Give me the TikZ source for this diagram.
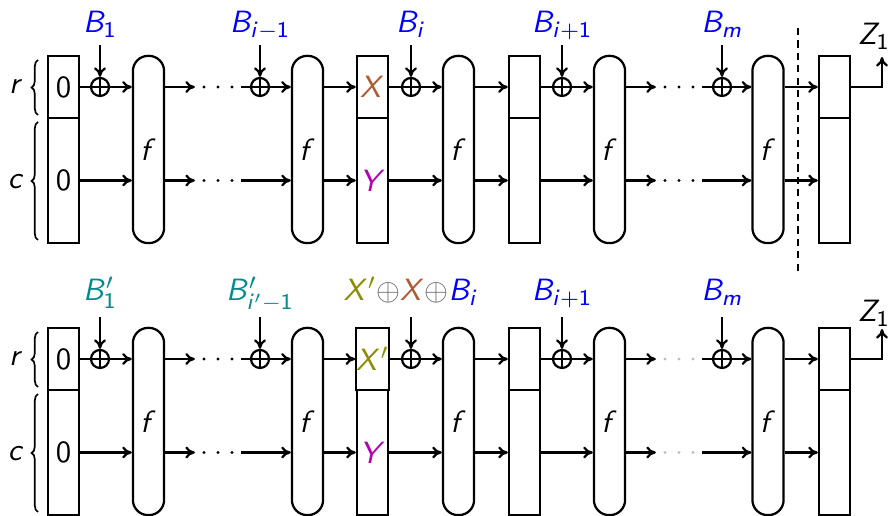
\documentclass[tikz,border=0pt,11pt]{standalone}
\usepackage{tikz}
\usetikzlibrary{positioning,arrows.meta,decorations.pathreplacing,calc}

\DeclareMathAlphabet{\mathsfit}{OT1}{cmss}{m}{sl}
\newcommand{\sv}[1]{\mathsfit{#1}}

\definecolor{msgblue}{RGB}{0,0,255}
\definecolor{msgteal}{RGB}{0,140,140}
\definecolor{xbrown}{RGB}{175,90,50}
\definecolor{ymag}{RGB}{180,0,180}
\definecolor{xolive}{RGB}{140,140,0}
\definecolor{opgray}{RGB}{100,100,100}
\definecolor{dotgray}{RGB}{190,190,190}

\tikzset{
  state/.style={draw,thick,minimum width=0.39cm,inner sep=0pt},
  perm/.style={draw,thick,rounded corners=0.19cm,minimum width=0.39cm,minimum height=2.34cm,inner sep=0pt},
  xor/.style={draw,thick,circle,minimum size=0.225cm,inner sep=0pt,
    path picture={\draw[thick] (path picture bounding box.north) -- (path picture bounding box.south)
      (path picture bounding box.west) -- (path picture bounding box.east);}},
  gap/.style={minimum width=0.55cm,minimum height=0.1cm,inner sep=0pt,
    path picture={\foreach \k in {-1,0,1}
      \fill[#1] ($(path picture bounding box.center)+(\k*0.175cm,0)$) circle (0.02cm);}},
  gap/.default=black,
  msg/.style={inner sep=0pt,text depth=#1,anchor=south},
  sidebrace/.style={decorate,decoration={brace,amplitude=0.08cm},semithick},
}

\begin{document}
\begin{tikzpicture}[x=0.0125cm,y=-0.0125cm,thick,>={To[length=0.12cm,width=0.15cm]}]
\useasboundingbox (0,0) rectangle (889,516);

% both sponge rows
\foreach \r/\dy/\dc/\xt in {a/0/black/{\textcolor{xbrown}{$\sv{X}$}},b/272/dotgray/{\textcolor{xolive}{$\sv{X}'$}}}{
\begin{scope}[shift={(0,\dy)}]
\node (lr\r) at (16,87) {$\sv{r}$};
\node (lc\r) at (16,182) {$\sv{c}$};
\draw[sidebrace] (38,115) -- (38,60);
\draw[sidebrace] (38,240) -- (38,122);

\node[state,minimum height=0.775cm] (s0r\r) at (63.5,87) {$\mathsf{0}$};
\node[state,minimum height=1.5625cm] (s0c\r) at (63.5,180.5) {$\mathsf{0}$};
\node[xor] (xor1\r) at (100,87) {};
\node[perm] (f1\r) at (148.5,149.5) {$\sv{f}$};
\node[gap] (g1r\r) at (218,87) {};
\node[gap] (g1c\r) at (218,180.5) {};
\node[xor] (xor2\r) at (260,87) {};
\node[perm] (f2\r) at (307.5,149.5) {$\sv{f}$};
\node[state,minimum height=0.775cm] (s2r\r) at (372.5,87) {\xt};
\node[state,minimum height=1.5625cm] (s2c\r) at (372.5,180.5) {\textcolor{ymag}{$\sv{Y}$}};
\node[xor] (xor3\r) at (411,87) {};
\node[perm] (f3\r) at (458.5,149.5) {$\sv{f}$};
\node[state,minimum height=0.775cm] (s3r\r) at (524.5,87) {};
\node[state,minimum height=1.5625cm] (s3c\r) at (524.5,180.5) {};
\node[xor] (xor4\r) at (562,87) {};
\node[perm] (f4\r) at (609.5,149.5) {$\sv{f}$};
\node[gap=\dc] (g2r\r) at (679,87) {};
\node[gap=\dc] (g2c\r) at (679,180.5) {};
\node[xor] (xor5\r) at (722,87) {};
\node[perm] (f5\r) at (768,149.5) {$\sv{f}$};
\node[state,minimum height=0.775cm] (s4r\r) at (834.5,87) {};
\node[state,minimum height=1.5625cm] (s4c\r) at (834.5,180.5) {};
\coordinate (zout\r) at (882,57);

\draw (s0r\r) -- (xor1\r);
\draw[->] (xor1\r) -- (f1\r.west |- xor1\r);
\draw[->] (s0c\r) -- (f1\r.west |- s0c\r);
\draw[->] (f1\r.east |- xor1\r) -- (g1r\r);
\draw[->] (f1\r.east |- s0c\r) -- (g1c\r);
\draw (g1r\r) -- (xor2\r);
\draw[->] (xor2\r) -- (f2\r.west |- xor2\r);
\draw[->] (g1c\r) -- (f2\r.west |- s0c\r);
\draw[->] (f2\r.east |- xor2\r) -- (s2r\r);
\draw[->] (f2\r.east |- s0c\r) -- (s2c\r);
\draw (s2r\r) -- (xor3\r);
\draw[->] (xor3\r) -- (f3\r.west |- xor3\r);
\draw[->] (s2c\r) -- (f3\r.west |- s0c\r);
\draw[->] (f3\r.east |- xor3\r) -- (s3r\r);
\draw[->] (f3\r.east |- s0c\r) -- (s3c\r);
\draw (s3r\r) -- (xor4\r);
\draw[->] (xor4\r) -- (f4\r.west |- xor4\r);
\draw[->] (s3c\r) -- (f4\r.west |- s0c\r);
\draw[->] (f4\r.east |- xor4\r) -- (g2r\r);
\draw[->] (f4\r.east |- s0c\r) -- (g2c\r);
\draw (g2r\r) -- (xor5\r);
\draw[->] (xor5\r) -- (f5\r.west |- xor5\r);
\draw[->] (g2c\r) -- (f5\r.west |- s0c\r);
\draw[->] (f5\r.east |- xor5\r) -- (s4r\r);
\draw[->] (f5\r.east |- s0c\r) -- (s4c\r);
\draw[->] (s4r\r) -| (zout\r);
\end{scope}
}

% message blocks, first run
\node[msg=0.1375cm,text=msgblue] (m1a) at (100,45) {$\sv{B}_{\mathsf{1}}$};
\node[msg=0.1375cm,text=msgblue] (m2a) at (260,45) {$\sv{B}_{\sv{i}-\mathsf{1}}$};
\node[msg=0.1375cm,text=msgblue] (m3a) at (411,45) {$\sv{B}_{\sv{i}}$};
\node[msg=0.1375cm,text=msgblue] (m4a) at (562,45) {$\sv{B}_{\sv{i}+\mathsf{1}}$};
\node[msg=0.1375cm,text=msgblue] (m5a) at (722,45) {$\sv{B}_{\sv{m}}$};
\node[anchor=base] (z1a) at (874,45) {$\sv{Z}_{\mathsf{1}}$};
\draw[dash pattern=on 0.09cm off 0.065cm] (798,28) -- (798,272);

% message blocks, second run
\node[msg=0.1875cm,text=msgteal] (m1b) at (100,317) {$\sv{B}'_{\mathsf{1}}$};
\node[msg=0.1875cm,text=msgteal] (m2b) at (260,317) {$\sv{B}'_{\sv{i}'-\mathsf{1}}$};
\node[msg=0.1875cm] (m3b) at (411,317) {$\textcolor{xolive}{\sv{X}'}\textcolor{opgray}{\oplus}\textcolor{xbrown}{\sv{X}}\textcolor{opgray}{\oplus}\textcolor{msgblue}{\sv{B}_{\sv{i}}}$};
\node[msg=0.1875cm,text=msgblue] (m4b) at (562,317) {$\sv{B}_{\sv{i}+\mathsf{1}}$};
\node[msg=0.1875cm,text=msgblue] (m5b) at (722,317) {$\sv{B}_{\sv{m}}$};
\node[anchor=base] (z1b) at (874,322) {$\sv{Z}_{\mathsf{1}}$};

\foreach \r in {a,b}{
  \draw[->] (m1\r) -- (xor1\r);
  \draw[->] (m2\r) -- (xor2\r);
  \draw[->] (m3\r) -- (xor3\r);
  \draw[->] (m4\r) -- (xor4\r);
  \draw[->] (m5\r) -- (xor5\r);
}
\end{tikzpicture}
\end{document}
